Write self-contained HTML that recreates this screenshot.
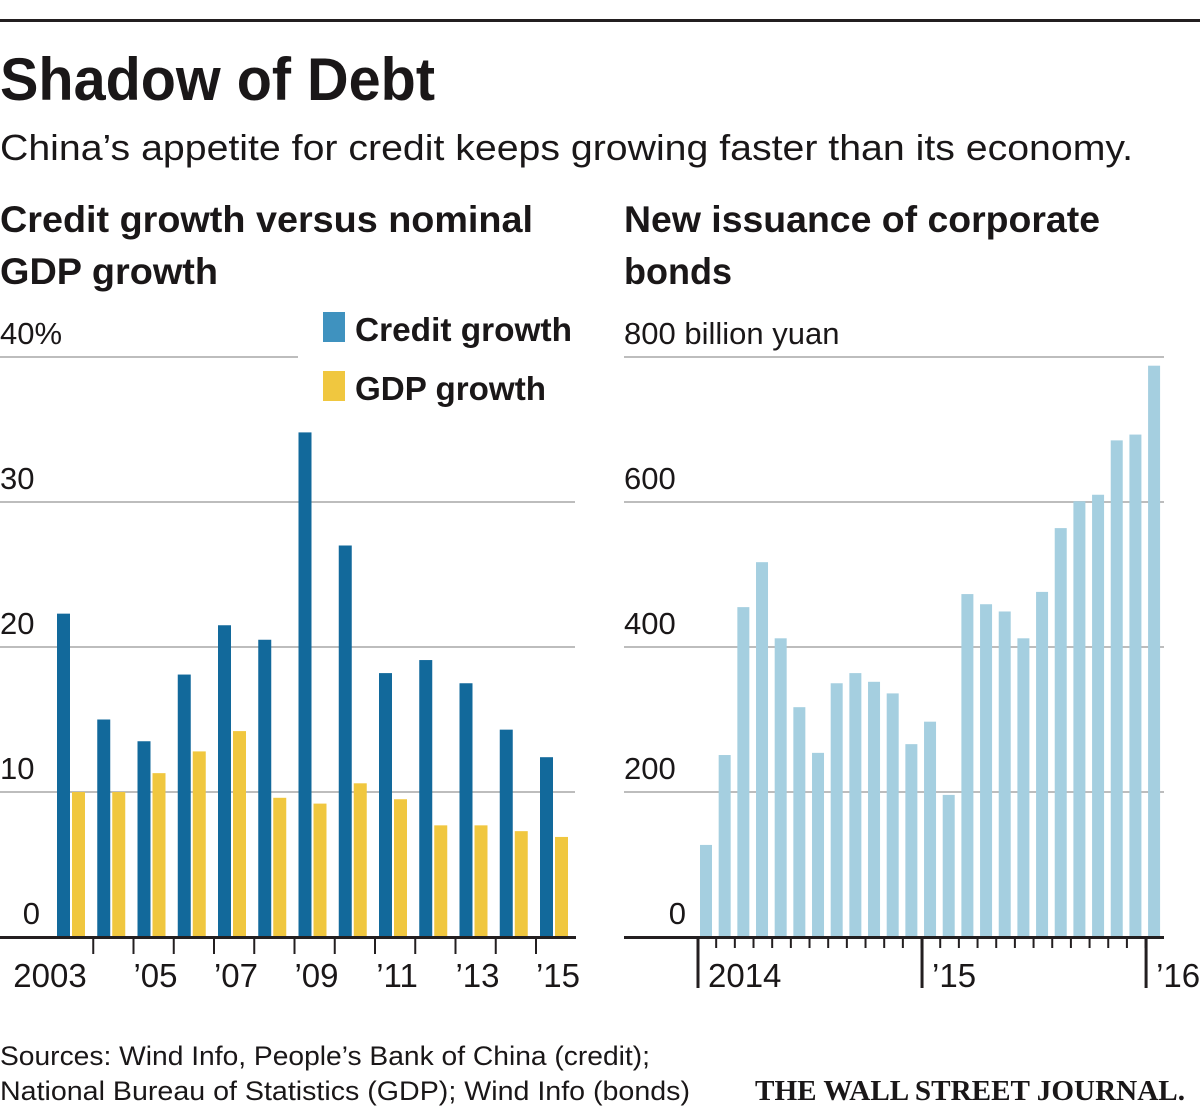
<!DOCTYPE html>
<html><head><meta charset="utf-8"><style>
html,body{margin:0;padding:0;background:#fff;width:1200px;height:1115px;overflow:hidden}
svg{display:block}
text{font-family:"Liberation Sans",sans-serif;fill:#1a1718}
.b{font-weight:bold}
</style></head><body>
<svg id="chart" width="1200" height="1115" viewBox="0 0 1200 1115">
<rect x="0" y="19" width="1200" height="3" fill="#231f20"/>
<text x="0" y="100" font-size="60" class="b" textLength="435" lengthAdjust="spacingAndGlyphs">Shadow of Debt</text>
<text x="0" y="160" font-size="36" textLength="1133" lengthAdjust="spacingAndGlyphs">China’s appetite for credit keeps growing faster than its economy.</text>
<text x="0" y="232" font-size="37" class="b" textLength="533" lengthAdjust="spacingAndGlyphs">Credit growth versus nominal</text>
<text x="0" y="284" font-size="37" class="b" textLength="218" lengthAdjust="spacingAndGlyphs">GDP growth</text>
<text x="624" y="232" font-size="37" class="b" textLength="476" lengthAdjust="spacingAndGlyphs">New issuance of corporate</text>
<text x="624" y="284" font-size="37" class="b" textLength="108" lengthAdjust="spacingAndGlyphs">bonds</text>
<rect x="323" y="312" width="22" height="30" fill="#3f92bf"/>
<text x="355" y="341" font-size="33" class="b" textLength="217" lengthAdjust="spacingAndGlyphs">Credit growth</text>
<rect x="323" y="371" width="22" height="30" fill="#f0c73f"/>
<text x="355" y="400" font-size="33" class="b" textLength="191" lengthAdjust="spacingAndGlyphs">GDP growth</text>
<g id="left"></g>
<g id="right"></g>
<text x="0" y="1065" font-size="27" textLength="650" lengthAdjust="spacingAndGlyphs">Sources: Wind Info, People’s Bank of China (credit);</text>
<text x="0" y="1100" font-size="27" textLength="690" lengthAdjust="spacingAndGlyphs">National Bureau of Statistics (GDP); Wind Info (bonds)</text>
<text x="755" y="1100" font-size="29" class="b" style="font-family:'Liberation Serif',serif" textLength="430" lengthAdjust="spacingAndGlyphs">THE WALL STREET JOURNAL.</text>
</svg>
<script>
const years = [2003,2004,2005,2006,2007,2008,2009,2010,2011,2012,2013,2014,2015];
const creditGrowth = [22.3,15.0,13.5,18.1,21.5,20.5,34.8,27.0,18.2,19.1,17.5,14.3,12.4];
const gdpGrowth = [10.0,10.0,11.3,12.8,14.2,9.6,9.2,10.6,9.5,7.7,7.7,7.3,6.9];
const leftTicks = [0,10,20,30,40];
const leftTickLabels = ['0','10','20','30','40%'];
const yearLabels = ['2003','’05','’07','’09','’11','’13','’15'];
const months = ['2014-01','2014-02','2014-03','2014-04','2014-05','2014-06','2014-07','2014-08','2014-09','2014-10','2014-11','2014-12','2015-01','2015-02','2015-03','2015-04','2015-05','2015-06','2015-07','2015-08','2015-09','2015-10','2015-11','2015-12','2016-01'];
const bondIssuance = [127,251,455,517,412,317,254,350,364,352,336,266,297,196,473,459,449,412,476,564,601,610,685,693,788];
const rightTicks = [0,200,400,600,800];
const rightTickLabels = ['0','200','400','600','800 billion yuan'];
const yearMarks = [{i:0,label:'2014'},{i:12,label:'’15'},{i:24,label:'’16'}];

const NS='http://www.w3.org/2000/svg';
function mk(tag,attrs,parent,text){const e=document.createElementNS(NS,tag);for(const k in attrs)e.setAttribute(k,attrs[k]);if(text!==undefined)e.textContent=text;parent.appendChild(e);return e;}

const L=document.getElementById('left');
const yL=v=>937-v*14.5;
const xL=i=>57+i*40.25;
leftTicks.forEach((t,k)=>{
  if(t>0){const g=mk('rect',{x:0,y:yL(t)-1,width:t===40?298:575,height:2,fill:'#bdbdbd'},L);
  
  }
  const lb=mk('text',{x:t===0?40:0,y:yL(t)-13,'font-size':31,'text-anchor':t===0?'end':'start'},L,leftTickLabels[k]);
  
  
});
years.forEach((yr,i)=>{
  const c=mk('rect',{x:xL(i),y:yL(creditGrowth[i]),width:13,height:creditGrowth[i]*14.5,fill:'#12699b'},L);
  
  
  const g=mk('rect',{x:xL(i)+15,y:yL(gdpGrowth[i]),width:13,height:gdpGrowth[i]*14.5,fill:'#f0c73f'},L);
  
  
  if(i>0){const tk=mk('rect',{x:xL(i)-5,y:937,width:2,height:17,fill:'#231f20'},L);
  
  }
});
yearLabels.forEach((lab,k)=>{
  const i=k*2;
  const t=mk('text',{x:xL(i)+(k===0?-7:18),y:987,'font-size':33,'text-anchor':'middle'},L,lab);
  
  
});
const ax=mk('rect',{x:0,y:936,width:576,height:3,fill:'#231f20'},L);



const R=document.getElementById('right');
const yR=v=>937-v*0.725;
const xR=i=>700+i*18.67;
rightTicks.forEach((t,k)=>{
  if(t>0){const g=mk('rect',{x:624,y:yR(t)-1,width:540,height:2,fill:'#bdbdbd'},R);
  
  }
  const lb=mk('text',{x:t===0?686:624,y:yR(t)-13,'font-size':31,'text-anchor':t===0?'end':'start'},R,rightTickLabels[k]);
  
  
});
months.forEach((m,i)=>{
  const b=mk('rect',{x:xR(i),y:yR(bondIssuance[i]),width:12,height:bondIssuance[i]*0.725,fill:'#a5cfe0'},R);
  
  
  const tk=mk('rect',{x:xR(i)-3.5,y:937,width:2,height:11,fill:'#231f20'},R);
  
  
});
yearMarks.forEach(ym=>{
  const tk=mk('rect',{x:xR(ym.i)-3.5,y:937,width:3,height:51,fill:'#231f20'},R);
  
  
  const t=mk('text',{x:xR(ym.i)+8,y:987,'font-size':33},R,ym.label);
  
  
});
const ax2=mk('rect',{x:624,y:936,width:540,height:3,fill:'#231f20'},R);


</script>
</body></html>
